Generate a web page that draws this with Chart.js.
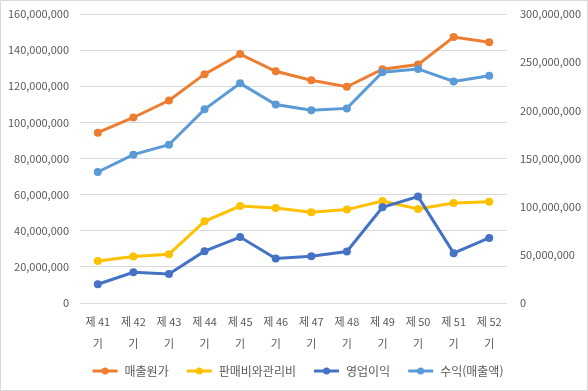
<!DOCTYPE html>
<html lang="ko">
<head>
    <meta charset="UTF-8">
    <title>매출원가 / 판매비와관리비 / 영업이익 / 수익</title>
    <script src="https://cdn.jsdelivr.net/npm/chart.js"></script>
    <style>
        body {
            margin: 0;
            background: #ffffff;
        }
        .chart-box {
            width: 588px;
            height: 391px;
            box-sizing: border-box;
            border: 1px solid #d9d9d9;
        }
    </style>
</head>
<body>
<div class="chart-box">
    <canvas id="salesChart" width="586" height="389"></canvas>
</div>

<script>
    const periods = ['제 41 기', '제 42 기', '제 43 기', '제 44 기', '제 45 기', '제 46 기',
                     '제 47 기', '제 48 기', '제 49 기', '제 50 기', '제 51 기', '제 52 기'];

    // left axis
    const costOfSales = [94300000, 102700000, 112100000, 126700000, 137800000, 128300000,
                         123300000, 119700000, 129400000, 132000000, 147200000, 144400000];
    const sgaExpenses = [23300000, 25700000, 27000000, 45200000, 53700000, 52600000,
                         50200000, 51700000, 56500000, 52000000, 55400000, 56000000];
    const operatingProfit = [10400000, 17000000, 16000000, 28700000, 36500000, 24600000,
                             25900000, 28500000, 53000000, 58900000, 27600000, 36000000];
    // right axis
    const revenue = [136000000, 154000000, 164300000, 201000000, 228000000, 206000000,
                     200000000, 202000000, 239600000, 243000000, 230000000, 236000000];

    const leftTicks = [0, 20000000, 40000000, 60000000, 80000000, 100000000, 120000000, 140000000, 160000000];
    const rightTicks = [0, 50000000, 100000000, 150000000, 200000000, 250000000, 300000000];

    const textColor = '#595959';
    const fontFamily = '"Noto Sans CJK KR", "Malgun Gothic", sans-serif';

    // "제 41 기" -> ["제 41", "기"]
    const xLabels = periods.map(p => {
        const parts = p.split(' ');
        return [parts[0] + ' ' + parts[1], parts[2]];
    });

    // legend mark: short line with a dot, leading gap on the left
    const markWidth = 34;
    function legendMark(color) {
        const c = document.createElement('canvas');
        c.width = markWidth;
        c.height = 10;
        const g = c.getContext('2d');
        g.strokeStyle = color;
        g.lineWidth = 3;
        g.beginPath();
        g.moveTo(8, 5);
        g.lineTo(33, 5);
        g.stroke();
        g.fillStyle = color;
        g.beginPath();
        g.arc(20.5, 5, 3.5, 0, Math.PI * 2);
        g.fill();
        return c;
    }

    function lineSet(label, data, color, axis, order) {
        return {
            label: label,
            data: data,
            yAxisID: axis,
            borderColor: color,
            backgroundColor: color,
            borderWidth: 3,
            pointRadius: 4,
            pointHoverRadius: 4,
            pointBackgroundColor: color,
            pointBorderWidth: 0,
            tension: 0,
            order: order,
            legendMark: legendMark(color)
        };
    }

    const fmt = v => v === 0 ? '0' : Number(v).toLocaleString('en-US');

    // tick padding is only meant to push the labels sideways
    function fixWidth(w) {
        return axis => {
            axis.width = w;
            axis.paddingTop = 0;
            axis.paddingBottom = 0;
        };
    }

    new Chart(document.getElementById('salesChart').getContext('2d'), {
        type: 'line',
        data: {
            labels: xLabels,
            datasets: [
                lineSet('매출원가', costOfSales, '#ED7D31', 'y', 4),
                lineSet('판매비와관리비', sgaExpenses, '#FFC000', 'y', 3),
                lineSet('영업이익', operatingProfit, '#4472C4', 'y', 2),
                lineSet('수익(매출액)', revenue, '#5B9BD5', 'y1', 1)
            ]
        },
        options: {
            responsive: false,
            animation: false,
            devicePixelRatio: 1,
            layout: {
                padding: { top: 13, right: 0, bottom: 3, left: 0 }
            },
            plugins: {
                tooltip: { enabled: false },
                legend: {
                    position: 'bottom',
                    labels: {
                        usePointStyle: true,
                        pointStyleWidth: markWidth,
                        padding: 10,
                        color: textColor,
                        font: { family: fontFamily, size: 12 },
                        generateLabels(chart) {
                            return chart.data.datasets.map((ds, i) => ({
                                text: ds.label,
                                fillStyle: ds.borderColor,
                                strokeStyle: ds.borderColor,
                                lineWidth: 0,
                                pointStyle: ds.legendMark,
                                fontColor: textColor,
                                hidden: false,
                                datasetIndex: i
                            }));
                        }
                    }
                }
            },
            scales: {
                x: {
                    offset: true,
                    grid: { display: false },
                    border: { display: false },
                    ticks: {
                        color: textColor,
                        font: { family: fontFamily, size: 11, lineHeight: 2 },
                        maxRotation: 0,
                        autoSkip: false,
                        padding: 0
                    }
                },
                y: {
                    position: 'left',
                    min: 0,
                    max: 160000000,
                    afterBuildTicks(axis) {
                        axis.ticks = leftTicks.map(v => ({ value: v }));
                    },
                    afterFit: fixWidth(79),
                    grid: { color: '#d9d9d9', lineWidth: 1, drawTicks: false },
                    border: { display: false },
                    ticks: {
                        color: textColor,
                        font: { family: fontFamily, size: 11 },
                        padding: 11,
                        callback: fmt
                    }
                },
                y1: {
                    position: 'right',
                    min: 0,
                    max: 300000000,
                    afterBuildTicks(axis) {
                        axis.ticks = rightTicks.map(v => ({ value: v }));
                    },
                    afterFit: fixWidth(80),
                    grid: { display: false, drawTicks: false },
                    border: { display: false },
                    ticks: {
                        color: textColor,
                        font: { family: fontFamily, size: 11 },
                        padding: 13,
                        callback: fmt
                    }
                }
            }
        }
    });
</script>
</body>
</html>
